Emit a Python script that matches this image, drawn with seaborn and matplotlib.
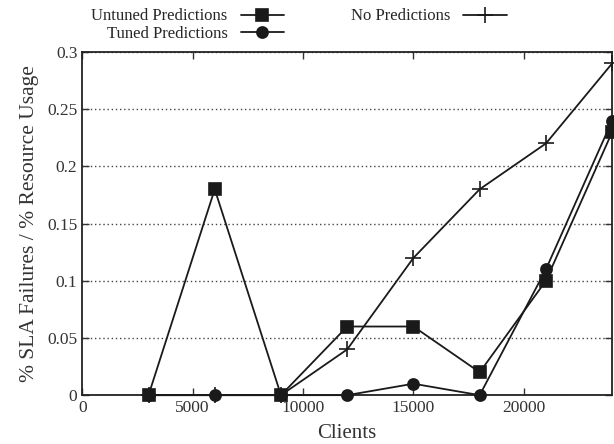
import numpy as np
import pandas as pd
import seaborn as sns
import matplotlib
matplotlib.use('Agg')
import matplotlib.pyplot as plt

# --- Data ---

clients = [3000, 6000, 9000, 12000, 15000, 18000, 21000, 24000]
untuned = [0.0, 0.18, 0.0, 0.06, 0.06, 0.02, 0.10, 0.23]
tuned = [0.0, 0.0, 0.0, 0.0, 0.01, 0.0, 0.11, 0.24]
no_pred = [0.0, 0.0, 0.0, 0.04, 0.12, 0.18, 0.22, 0.29]

series = ['Untuned Predictions', 'Tuned Predictions', 'No Predictions']
markers = {'Untuned Predictions': 's', 'Tuned Predictions': 'o', 'No Predictions': '+'}

df = pd.DataFrame({
    'Clients': clients * 3,
    'value': untuned + tuned + no_pred,
    'series': np.repeat(series, len(clients)),
})

# --- Plot ---

sns.set_style('ticks')
plt.rcParams['font.family'] = ['Liberation Serif', 'DejaVu Serif']
plt.rcParams['axes.edgecolor'] = '#222222'

fig, ax = plt.subplots(figsize=(6.14, 4.44), dpi=100)
fig.subplots_adjust(left=0.134, right=0.997, top=0.883, bottom=0.11)

for name in series:
  d = df[df.series == name]
  sns.lineplot(
      data=d, x='Clients', y='value', ax=ax,
      color='#1a1a1a', linewidth=1.3,
      marker=markers[name], markersize=8 if name != 'No Predictions' else 11,
      markeredgewidth=1.2, markeredgecolor='#1a1a1a',
      label=name, legend=False, clip_on=False, zorder=3
  )

ax.set_xlim(0, 24000)
ax.set_ylim(0, 0.3)
ax.set_xticks([0, 5000, 10000, 15000, 20000])
ax.set_yticks([0, 0.05, 0.1, 0.15, 0.2, 0.25, 0.3])
ax.set_yticklabels(['0', '0.05', '0.1', '0.15', '0.2', '0.25', '0.3'])
ax.tick_params(direction='in', top=True, right=True, length=5, labelsize=12.5,
               colors='#333333', width=1)
ax.yaxis.grid(True, linestyle=(0, (1, 2)), color='#444444', linewidth=1)
for s in ax.spines.values():
  s.set_linewidth(1.3)

ax.set_xlabel('Clients', fontsize=15, color='#333333', labelpad=6)
ax.set_ylabel('% SLA Failures / % Resource Usage', fontsize=15.5, color='#333333', labelpad=6)

handles, labels = ax.get_legend_handles_labels()
fig.legend(
    handles, labels,
    loc='upper center', bbox_to_anchor=(0.487, 1.015), ncol=2,
    frameon=False, markerfirst=False, fontsize=12,
    handlelength=2.6, columnspacing=4.0, labelspacing=0.1, handletextpad=0.8
)

plt.savefig('out.png', dpi=100)
